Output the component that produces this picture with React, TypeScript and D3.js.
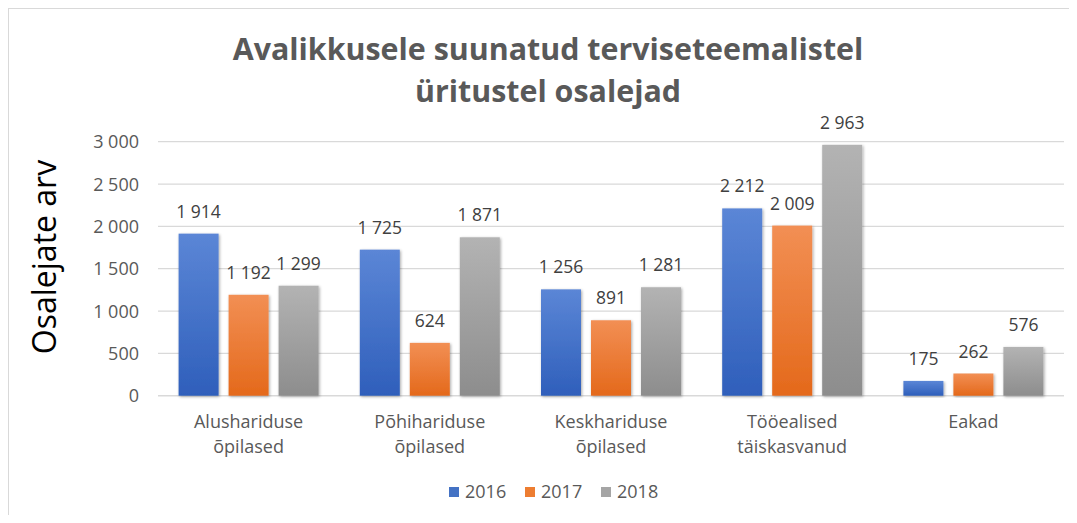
import React from "react";
import * as d3 from "d3";

const categories = [
  ["Alushariduse", "õpilased"],
  ["Põhihariduse", "õpilased"],
  ["Keskhariduse", "õpilased"],
  ["Tööealised", "täiskasvanud"],
  ["Eakad"],
];
const series = ["2016", "2017", "2018"];
const values2016 = [1914, 1725, 1256, 2212, 175];
const values2017 = [1192, 624, 891, 2009, 262];
const values2018 = [1299, 1871, 1281, 2963, 576];
const yTicks = [0, 500, 1000, 1500, 2000, 2500, 3000];
const titleLines = ["Avalikkusele suunatud terviseteemalistel", "üritustel osalejad"];
const yTitle = "Osalejate arv";

const colors = [
  { top: "#5b86d6", bottom: "#2f5fbb", legend: "#4472C4" },
  { top: "#f28f54", bottom: "#e4691b", legend: "#ED7D31" },
  { top: "#b3b3b3", bottom: "#8d8d8d", legend: "#A5A5A5" },
];

const locale = d3.formatLocale({ decimal: ",", thousands: "\u2009", grouping: [3], currency: ["", "€"] });
const fmt = (v: number) => locale.format(",")(v).replace(/\u2009/g, " ");

export default function App() {
  const W = 1077, H = 523;
  const left = 158, right = 1064, top = 141.7, bottom = 395.7;
  const font = "'Open Sans', Calibri, sans-serif";
  const x = d3.scaleBand().domain(categories.map((_, i) => String(i))).range([left, right]).paddingInner(0).paddingOuter(0);
  const y = d3.scaleLinear().domain([0, 3000]).range([bottom, top]);
  const groupW = 140;
  const inner = d3.scaleBand().domain(series).range([0, groupW]).paddingInner(0.2).paddingOuter(0);
  const groupOffset = (x.bandwidth() - groupW) / 2;
  const data = [values2016, values2017, values2018];

  return (
    <div style={{ margin: -8 }}>
      <svg width={W} height={H} style={{ display: "block", background: "#fff" }}>
        <defs>
          {colors.map((c, i) => (
            <linearGradient key={i} id={`g${i}`} x1="0" y1="0" x2="0" y2="1">
              <stop offset="0%" stopColor={c.top} />
              <stop offset="100%" stopColor={c.bottom} />
            </linearGradient>
          ))}
          <filter id="sh" x="-20%" y="-5%" width="140%" height="115%">
            <feGaussianBlur in="SourceAlpha" stdDeviation="1.5" />
            <feOffset dx="1" dy="1" result="b" />
            <feComponentTransfer><feFuncA type="linear" slope="0.35" /></feComponentTransfer>
            <feMerge><feMergeNode /><feMergeNode in="SourceGraphic" /></feMerge>
          </filter>
        </defs>
        {/* frame */}
        <line x1={8} y1={8} x2={W} y2={8} stroke="#d9d9d9" strokeWidth={2} />
        <line x1={8} y1={8} x2={8} y2={H} stroke="#d9d9d9" strokeWidth={2} />

        {/* title */}
        {titleLines.map((t, i) => (
          <text key={i} x={548} y={60 + i * 42} textAnchor="middle" fontFamily={font} fontWeight="bold" fontSize={30.4} fill="#595959">{t}</text>
        ))}

        {/* grid + y ticks */}
        {yTicks.map((t) => (
          <g key={t}>
            <line x1={left} x2={right} y1={y(t)} y2={y(t)} stroke="#d9d9d9" strokeWidth={t === 0 ? 1.5 : 1.2} />
            <text x={139} y={y(t) + 6.5} textAnchor="end" fontFamily={font} fontSize={18} fill="#595959">{fmt(t)}</text>
          </g>
        ))}

        {/* y title */}
        <text transform={`translate(56,257) rotate(-90)`} textAnchor="middle" fontFamily={font} fontSize={32} fill="#000">{yTitle}</text>

        {/* bars */}
        {categories.map((_, ci) => (
          <g key={ci}>
            {series.map((s, si) => {
              const v = data[si][ci];
              const bx = (x(String(ci)) as number) + groupOffset + (inner(s) as number);
              const bw = inner.bandwidth();
              return (
                <g key={s}>
                  <rect x={bx} y={y(v)} width={bw} height={y(0) - y(v)} fill={`url(#g${si})`} filter="url(#sh)" />
                  <text x={bx + bw / 2} y={y(v) - 16} textAnchor="middle" fontFamily={font} fontSize={17.5} fill="#404040">{fmt(v)}</text>
                </g>
              );
            })}
          </g>
        ))}

        {/* category labels */}
        {categories.map((lines, ci) => (
          <text key={ci} textAnchor="middle" fontFamily={font} fontSize={18} fill="#595959">
            {lines.map((l, li) => (
              <tspan key={li} x={(x(String(ci)) as number) + x.bandwidth() / 2} y={428 + li * 25}>{l}</tspan>
            ))}
          </text>
        ))}

        {/* legend */}
        {series.map((s, si) => {
          const lx = 449 + si * 76;
          return (
            <g key={s}>
              <rect x={lx} y={487} width={10} height={10} fill={colors[si].legend} />
              <text x={lx + 16} y={498} fontFamily={font} fontSize={18} fill="#595959">{s}</text>
            </g>
          );
        })}
      </svg>
    </div>
  );
}
